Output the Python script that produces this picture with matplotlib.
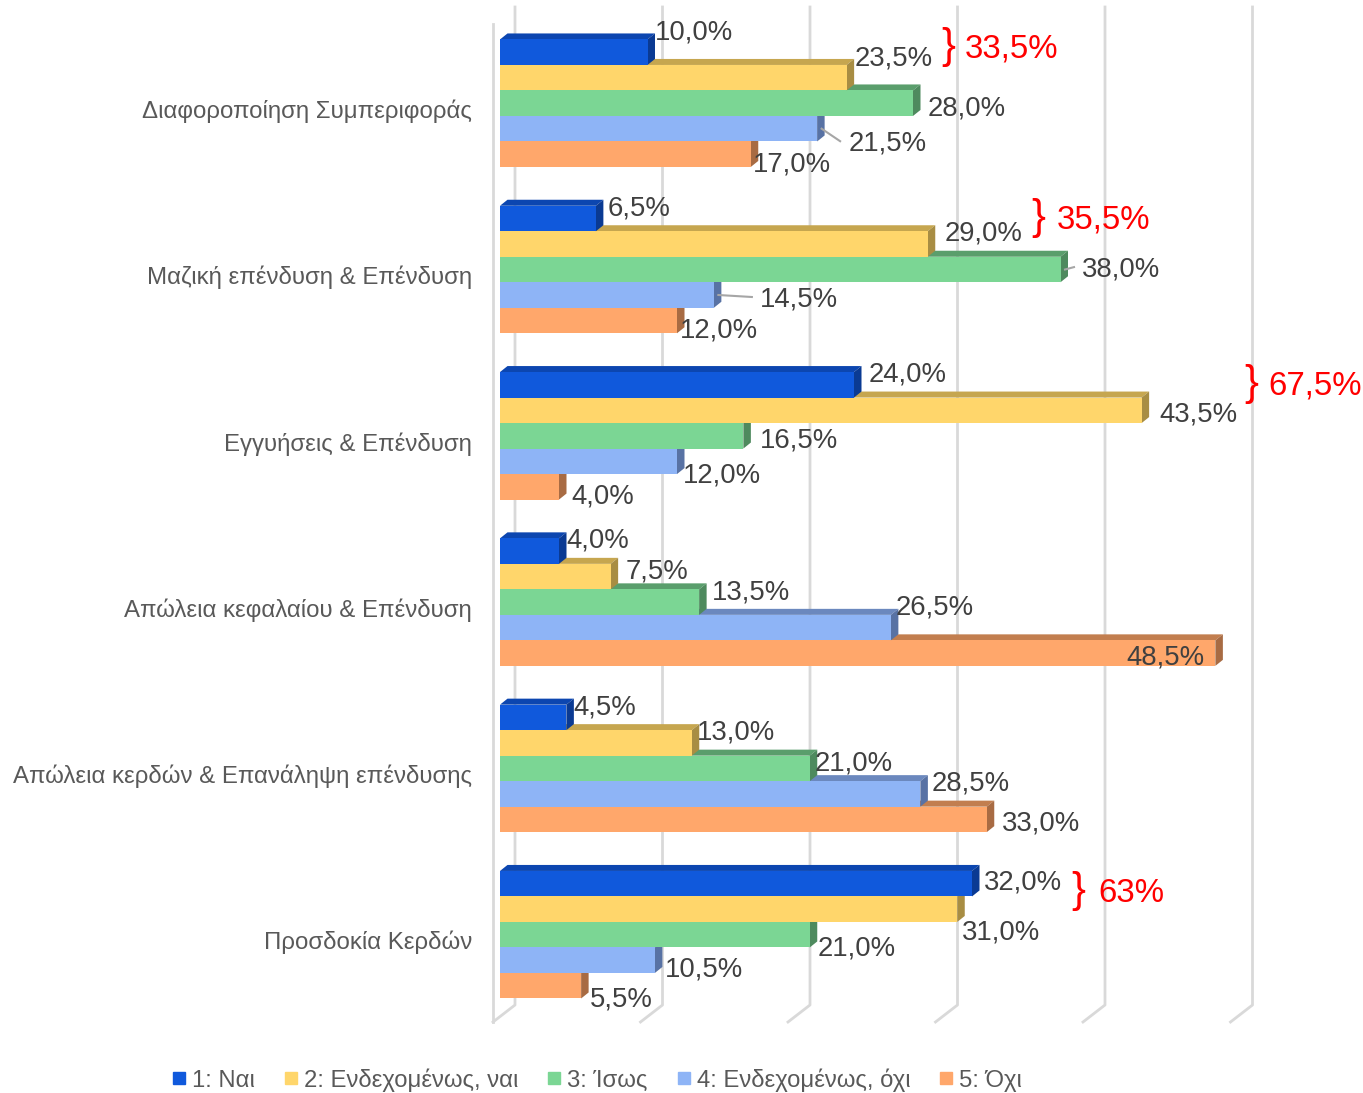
import numpy as np
import matplotlib
matplotlib.use('Agg')
import matplotlib.pyplot as plt
from matplotlib.patches import Polygon
from matplotlib.lines import Line2D

plt.rcParams['font.family'] = ['Liberation Sans', 'DejaVu Sans']

# data (groups top to bottom)
categories = ['Διαφοροποίηση Συμπεριφοράς', 'Μαζική επένδυση & Επένδυση', 'Εγγυήσεις & Επένδυση',
              'Απώλεια κεφαλαίου & Επένδυση', 'Απώλεια κερδών & Επανάληψη επένδυσης', 'Προσδοκία Κερδών']
series = ['1: Ναι', '2: Ενδεχομένως, ναι', '3: Ίσως', '4: Ενδεχομένως, όχι', '5: Όχι']
nai = [10.0, 6.5, 24.0, 4.0, 4.5, 32.0]
endex_nai = [23.5, 29.0, 43.5, 7.5, 13.0, 31.0]
isos = [28.0, 38.0, 16.5, 13.5, 21.0, 21.0]
endex_oxi = [21.5, 14.5, 12.0, 26.5, 28.5, 10.5]
oxi = [17.0, 12.0, 4.0, 48.5, 33.0, 5.5]
totals = ['33,5%', '35,5%', '67,5%', None, None, '63%']

values = [nai, endex_nai, isos, endex_oxi, oxi]

# colours: front, top, side
front = ['#1059DC', '#FFD66B', '#7BD694', '#8EB4F6', '#FFA76B']
topc = ['#0C46B0', '#C6A64F', '#5A9E6C', '#6B88BE', '#C27E4F']
side = ['#0A3A93', '#A88D43', '#4E8A5E', '#5872A4', '#A86B43']

# pixel layout helpers
PX_PCT = 14.75
X0 = 500
GRP = 166.3
Y0 = 103.2
W, H = 1363, 1093
def px_x(p): return (p - X0) / PX_PCT
def px_y(p): return (p - Y0) / GRP

h = 25.5 / GRP
dx = 7.5 / PX_PCT
dy = 6.0 / GRP

# label offsets (px) from bar front end / bar centre
offs = [
    [(7.5, -22), (8.4, -21.5), (15, 3), (31, 12.5), (2, 8)],
    [(12, -12.4), (17, -12), (21.5, -2.4), (46, 2), (3, 7.6)],
    [(15, -12.7), (17.4, 2), (16.6, 2.3), (6, 12), (12, 7.3)],
    [(7, -13), (15.4, -7.5), (13, -12), (5, -22.5), (-89, 2)],
    [(6.6, -12.3), (5.3, -12.8), (5.3, -7.3), (11.6, -12.8), (15.3, 1.7)],
    [(12, -3.6), (4.75, 21), (8.25, 11.4), (10, 7), (9, 11.4)],
]
leaders = [(0, 3), (1, 2), (1, 3)]
# red brace / total positions (px): brace x, text x, y
red_pos = [(948, 965, 46), (1038, 1057, 217), (1251, 1268, 383), None, None, (1078, 1098, 890)]

fig = plt.figure(figsize=(W / 100, H / 100), dpi=100)
ax = fig.add_axes([0, 0, 1, 1])
ax.set_xlim(px_x(0), px_x(W))
ax.set_ylim(px_y(H), px_y(0))
ax.axis('off')

# gridlines on back wall + floor diagonals
for k in range(0, 60, 10):
    xb = k + px_x(515) - px_x(500)
    xf = k + px_x(493) - px_x(500)
    ax.plot([xb, xb, xf], [px_y(7), px_y(1005), px_y(1022)], color='#D9D9D9', lw=2, zorder=1)
ax.plot([px_x(493), px_x(493)], [px_y(24), px_y(1022)], color='#D9D9D9', lw=2, zorder=1)

ypos = np.arange(len(categories))
for j in range(4, -1, -1):
    vals = values[j]
    yc = ypos + (j - 2) * h
    z = 10 + (4 - j) * 3
    ax.barh(yc, vals, height=h, color=front[j], zorder=z + 2)
    for i, v in enumerate(vals):
        t = yc[i] - h / 2
        b = yc[i] + h / 2
        ax.add_patch(Polygon([(0, t), (v, t), (v + dx, t - dy), (dx, t - dy)],
                             closed=True, facecolor=topc[j], edgecolor='none', zorder=z))
        ax.add_patch(Polygon([(v, t), (v + dx, t - dy), (v + dx, b - dy), (v, b)],
                             closed=True, facecolor=side[j], edgecolor='none', zorder=z + 1))

# data labels
for i in range(len(categories)):
    for j in range(5):
        v = values[j][i]
        yc = i + (j - 2) * h
        ox, oy = offs[i][j]
        lx = v + ox / PX_PCT
        ly = yc + (oy + 2) / GRP
        ax.text(lx, ly, f'{v:.1f}%'.replace('.', ','), ha='left', va='center',
                fontsize=19.8, color='#404040', zorder=30)
        if (i, j) in leaders:
            ax.plot([v + dx * 0.6, lx - 8 / PX_PCT], [yc, ly - 2 / GRP], color='#A6A6A6', lw=1.5, zorder=29)

# category labels
for i, c in enumerate(categories):
    ax.text(px_x(472), i + 8 / GRP, c, ha='right', va='center', fontsize=17.3, color='#595959')

# red totals
for i, t in enumerate(totals):
    if t is None:
        continue
    bx, tx, ty = red_pos[i]
    ax.text(px_x(bx), px_y(ty + 1), '}', ha='center', va='center', fontsize=30, color='#FF0000')
    ax.text(px_x(tx), px_y(ty + 3), t, ha='left', va='center', fontsize=23.8, color='#FF0000')

handles = [Line2D([], [], marker='s', linestyle='none', markersize=8.5, markerfacecolor=front[j],
                  markeredgecolor=front[j]) for j in range(5)]
fig.legend(handles, series, loc='center', bbox_to_anchor=(0.438, 1 - 1080 / H), ncol=5,
           frameon=False, fontsize=17.2, handlelength=0.6, handletextpad=0.25, columnspacing=1.2,
           labelcolor='#595959')

fig.savefig('out.png', dpi=100)
